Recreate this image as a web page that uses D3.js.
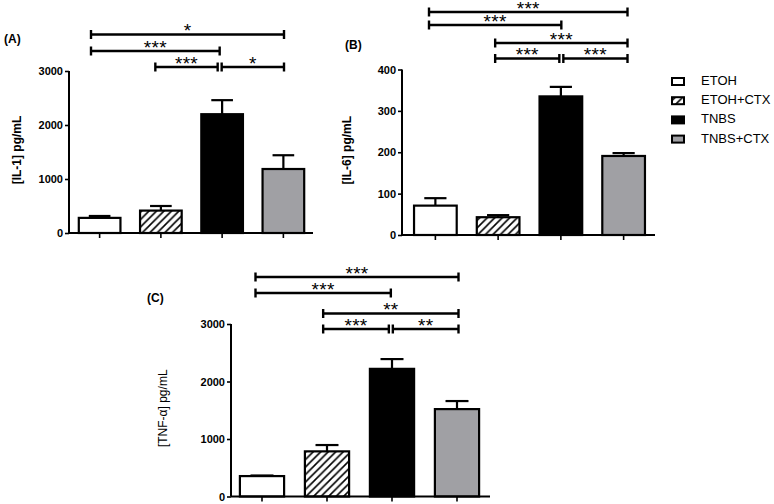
<!DOCTYPE html>
<html>
<head>
<meta charset="utf-8">
<script src="https://cdn.jsdelivr.net/npm/d3@7"></script>
<style>
  html, body { margin: 0; padding: 0; background: #fff; }
  svg { display: block; font-family: "Liberation Sans", Arial, sans-serif; }
</style>
</head>
<body>
<svg id="chart" width="774" height="504"></svg>
<script>
// ---------------- DATA ----------------
const groups = ["ETOH", "ETOH+CTX", "TNBS", "TNBS+CTX"];

const il1Means = [280, 415, 2200, 1185];
const il1Errors = [35, 85, 260, 255];
const il1Ticks = [0, 1000, 2000, 3000];

const il6Means = [71, 43, 335, 191];
const il6Errors = [18, 5, 23, 7];
const il6Ticks = [0, 100, 200, 300, 400];

const tnfMeans = [355, 785, 2220, 1520];
const tnfErrors = [10, 110, 170, 140];
const tnfTicks = [0, 1000, 2000, 3000];

const il1Brackets = [
  { from: 0, to: 3, level: 0, label: "*" },
  { from: 0, to: 2, level: 1, label: "***" },
  { from: 1, to: 2, level: 2, label: "***" },
  { from: 2, to: 3, level: 2, label: "*" }
];
const il6Brackets = [
  { from: 0, to: 3, level: 0, label: "***" },
  { from: 0, to: 2, level: 1, label: "***" },
  { from: 1, to: 3, level: 2, label: "***" },
  { from: 1, to: 2, level: 3, label: "***" },
  { from: 2, to: 3, level: 3, label: "***" }
];
const tnfBrackets = [
  { from: 0, to: 3, level: 0, label: "***" },
  { from: 0, to: 2, level: 1, label: "***" },
  { from: 1, to: 3, level: 2, label: "**" },
  { from: 1, to: 2, level: 3, label: "***" },
  { from: 2, to: 3, level: 3, label: "**" }
];

// ---------------- LAYOUT ----------------
const panels = [
  { tag: "(A)", tagPos: [4, 43], yTitle: "[IL-1] pg/mL", titleBold: true, titleX: 21,
    means: il1Means, errors: il1Errors, ticks: il1Ticks, brackets: il1Brackets,
    axisX: 69, yRange: [233, 71], xRange: [69, 314], axisEnd: 313,
    bracketRange: [91, 284], levels: [34.5, 51, 67] },
  { tag: "(B)", tagPos: [345, 49], yTitle: "[IL-6] pg/mL", titleBold: true, titleX: 351,
    means: il6Means, errors: il6Errors, ticks: il6Ticks, brackets: il6Brackets,
    axisX: 402, yRange: [235, 69.5], xRange: [404, 655], axisEnd: 655,
    bracketRange: [429, 627.5], levels: [12, 25, 43, 58.5] },
  { tag: "(C)", tagPos: [147, 302], yTitle: "[TNF-\u03b1] pg/mL", titleBold: false, titleX: 167,
    means: tnfMeans, errors: tnfErrors, ticks: tnfTicks, brackets: tnfBrackets,
    axisX: 231, yRange: [496.5, 324], xRange: [229.5, 489.5], axisEnd: 490,
    bracketRange: [255.5, 458.5], levels: [277, 293, 313.5, 329] }
];

const fills = ["#ffffff", "url(#hatch)", "#000000", "#a0a0a4"];

const svg = d3.select("#chart");
const defs = svg.append("defs");
const pat = defs.append("pattern")
  .attr("id", "hatch").attr("patternUnits", "userSpaceOnUse")
  .attr("width", 7.5).attr("height", 7.5);
pat.append("rect").attr("width", 7.5).attr("height", 7.5).attr("fill", "#fff");
pat.append("path")
  .attr("d", "M-1.875,1.875 L1.875,-1.875 M0,7.5 L7.5,0 M5.625,9.375 L9.375,5.625")
  .attr("stroke", "#000").attr("stroke-width", 1.6);

panels.forEach(p => {
  const g = svg.append("g");
  const ymax = d3.max(p.ticks);
  const y = d3.scaleLinear().domain([0, ymax]).range(p.yRange);
  const x = d3.scaleBand().domain(groups).range(p.xRange).paddingInner(0.32).paddingOuter(0.16);
  const bx = d3.scaleLinear().domain([0, groups.length - 1]).range(p.bracketRange);

  // bars
  g.selectAll("rect.bar").data(p.means).join("rect")
    .attr("class", "bar")
    .attr("x", (d, i) => x(groups[i]))
    .attr("y", d => y(d))
    .attr("width", x.bandwidth())
    .attr("height", d => y(0) - y(d))
    .attr("fill", (d, i) => fills[i])
    .attr("stroke", "#000").attr("stroke-width", 2.2);

  // error bars
  const capW = x.bandwidth() * 0.52;
  p.means.forEach((m, i) => {
    const cx = x(groups[i]) + x.bandwidth() / 2;
    g.append("line").attr("x1", cx).attr("x2", cx)
      .attr("y1", y(m)).attr("y2", y(m + p.errors[i]))
      .attr("stroke", "#000").attr("stroke-width", 2.2);
    g.append("line").attr("x1", cx - capW / 2).attr("x2", cx + capW / 2)
      .attr("y1", y(m + p.errors[i])).attr("y2", y(m + p.errors[i]))
      .attr("stroke", "#000").attr("stroke-width", 2.2);
  });

  // y axis
  const yAxis = d3.axisLeft(y).tickValues(p.ticks).tickSize(4).tickPadding(2).tickFormat(d3.format("d"));
  const ya = g.append("g").attr("transform", `translate(${p.axisX},0)`).call(yAxis);
  ya.select(".domain").attr("d", `M0,${y(ymax)}V${y(0)}`).attr("stroke-width", 2);
  ya.selectAll(".tick line").attr("stroke-width", 1.6);
  ya.selectAll(".tick text").attr("font-size", 11).attr("font-weight", "bold")
    .attr("fill", "#000").attr("font-family", "'Liberation Sans', Arial, sans-serif");

  // x axis
  const xAxis = d3.axisBottom(x).tickSize(5).tickFormat("");
  const xa = g.append("g").attr("transform", `translate(0,${y(0)})`).call(xAxis);
  xa.select(".domain").attr("d", `M${p.axisX},0H${p.axisEnd}`).attr("stroke-width", 2);
  xa.selectAll(".tick line").attr("stroke-width", 1.6);

  // y title
  g.append("text")
    .attr("transform", `translate(${p.titleX},${(p.yRange[0] + p.yRange[1]) / 2 - 2}) rotate(-90)`)
    .attr("text-anchor", "middle")
    .attr("font-size", 12).attr("font-weight", p.titleBold ? "bold" : "normal")
    .text(p.yTitle);

  // panel tag
  g.append("text").attr("x", p.tagPos[0]).attr("y", p.tagPos[1])
    .attr("font-size", 12).attr("font-weight", "bold").text(p.tag);

  // brackets
  p.brackets.forEach(b => {
    const sameLevel = p.brackets.filter(o => o !== b && o.level === b.level);
    let x1 = bx(b.from), x2 = bx(b.to);
    if (sameLevel.some(o => o.to === b.from)) x1 += 2;
    if (sameLevel.some(o => o.from === b.to)) x2 -= 2;
    const ly = p.levels[b.level];
    g.append("line").attr("x1", x1).attr("x2", x2).attr("y1", ly).attr("y2", ly)
      .attr("stroke", "#000").attr("stroke-width", 2.4);
    [x1, x2].forEach(xx => g.append("line").attr("x1", xx).attr("x2", xx)
      .attr("y1", ly - 4.5).attr("y2", ly + 4.5)
      .attr("stroke", "#000").attr("stroke-width", 2.4));
    g.append("text").attr("x", (x1 + x2) / 2).attr("y", ly + 2.5)
      .attr("text-anchor", "middle").attr("font-size", 19)
      .attr("letter-spacing", 0.3).text(b.label);
  });
});

// legend
const legend = svg.append("g");
groups.forEach((name, i) => {
  const ly = 85 + i * 19.2;
  legend.append("rect").attr("x", 672).attr("y", ly - 7).attr("width", 12).attr("height", 7)
    .attr("fill", fills[i]).attr("stroke", "#000").attr("stroke-width", 2);
  legend.append("text").attr("x", 701).attr("y", ly).attr("font-size", 13).text(name);
});
</script>
</body>
</html>
